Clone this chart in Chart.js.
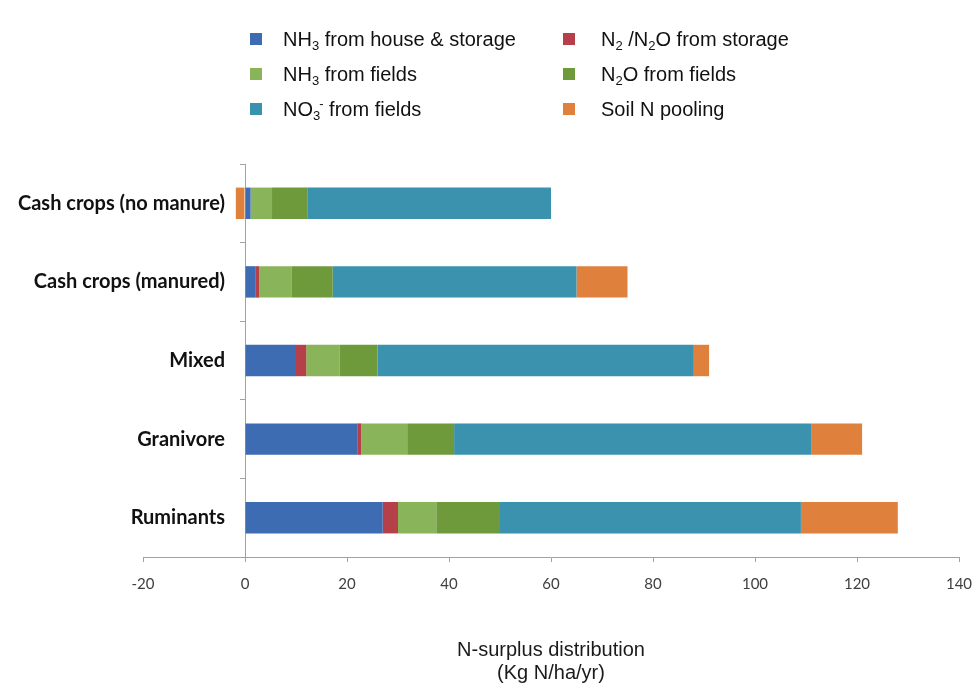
<!DOCTYPE html>
<html><head><meta charset="utf-8">
<script src="https://cdn.jsdelivr.net/npm/chart.js@4.4.1/dist/chart.umd.min.js"></script>
<style>html,body{margin:0;padding:0;background:#fff}#wrap{width:978px;height:684px;position:relative}</style>
</head><body><div id="wrap"><canvas id="c" width="978" height="684"></canvas></div>
<script>
// ---- data ----
const categories = ['Cash crops (no manure)', 'Cash crops (manured)', 'Mixed', 'Granivore', 'Ruminants'];
const seriesLabels = ['NH₃ from house & storage', 'N₂ /N₂O from storage', 'NH₃ from fields', 'N₂O from fields', 'NO₃⁻ from fields', 'Soil N pooling'];
const nh3House  = [1.1, 2.0, 10.0, 22.0, 27.0];
const n2Storage = [0.0, 0.8, 2.0, 0.8, 3.0];
const nh3Fields = [4.2, 6.4, 6.5, 9.0, 7.5];
const n2oFields = [6.9, 8.0, 7.5, 9.2, 12.5];
const no3Fields = [47.8, 47.8, 62.0, 70.0, 59.0];
const soilPool  = [-1.8, 10.0, 3.0, 10.0, 19.0];
const xTicks = [-20, 0, 20, 40, 60, 80, 100, 120, 140];
const axisTitle = ['N-surplus distribution', '(Kg N/ha/yr)'];

const seriesValues = [nh3House, n2Storage, nh3Fields, n2oFields, no3Fields, soilPool];
const seriesColors = ['#3d6cb3', '#b5404a', '#8ab45a', '#6e9a3c', '#3a92ae', '#df803d'];
const axisColor = '#a8a19b';

// legend drawn on canvas with sub/superscripts
const SUB = {'₀':'0','₁':'1','₂':'2','₃':'3','₄':'4'};
const SUP = {'⁻':'-','⁺':'+'};
const legendPlugin = {
  id: 'gridLegend',
  afterDraw(chart) {
    const ctx = chart.ctx;
    const colX = [250, 563];
    const textX = [283, 601];
    const rowY = [39, 74, 109];
    const fs = 20, sfs = 13;
    chart.data.datasets.forEach((ds, i) => {
      const col = i % 2, row = Math.floor(i / 2);
      const cy = rowY[row];
      ctx.save();
      ctx.fillStyle = ds.backgroundColor;
      ctx.fillRect(colX[col], cy - 6, 12, 12);
      ctx.fillStyle = '#111';
      ctx.textBaseline = 'alphabetic';
      let x = textX[col];
      const base = cy + 7;
      let lastSubX = null, lastSubW = 0;
      for (const ch of Array.from(ds.label)) {
        if (SUB[ch]) {
          ctx.font = sfs + 'px "Liberation Sans", Arial, sans-serif';
          ctx.fillText(SUB[ch], x, base + 4);
          lastSubX = x; lastSubW = ctx.measureText(SUB[ch]).width;
          x += lastSubW;
        } else if (SUP[ch]) {
          ctx.font = sfs + 'px "Liberation Sans", Arial, sans-serif';
          const sx = lastSubX !== null ? lastSubX + lastSubW - 1 : x;
          ctx.fillText(SUP[ch], sx, base - 8);
          x = Math.max(x, sx + ctx.measureText(SUP[ch]).width);
          lastSubX = null;
        } else {
          ctx.font = fs + 'px "Liberation Sans", Arial, sans-serif';
          ctx.fillText(ch, x, base);
          x += ctx.measureText(ch).width;
          lastSubX = null;
        }
      }
      ctx.restore();
    });
  }
};

// y labels of an axis placed at x=0: add a gap between label and axis line
const labelGapPlugin = {
  id: 'labelGap',
  beforeDraw(chart) {
    const s = chart.scales.y;
    const items = s.getLabelItems(chart.chartArea);
    items.forEach(it => {
      if (!it._shifted) { it.options.translation[0] -= 20; it._shifted = true; }
    });
  }
};

const datasets = seriesLabels.map((lab, i) => ({
  label: lab,
  data: seriesValues[i],
  backgroundColor: seriesColors[i],
  borderWidth: 0,
  barPercentage: 0.4,
  categoryPercentage: 1.0
}));

new Chart(document.getElementById('c'), {
  type: 'bar',
  data: { labels: categories, datasets },
  plugins: [legendPlugin, labelGapPlugin],
  options: {
    indexAxis: 'y',
    responsive: false,
    animation: false,
    events: [],
    layout: { padding: { top: 164, left: 143, right: 19, bottom: 0 } },
    plugins: { legend: { display: false }, tooltip: { enabled: false } },
    scales: {
      x: {
        type: 'linear', stacked: true, min: xTicks[0], max: xTicks[xTicks.length - 1],
        afterBuildTicks(scale) { scale.ticks = xTicks.map(v => ({ value: v })); },
        afterFit(scale) { scale.paddingLeft = 0; scale.paddingRight = 0; },
        ticks: { color: '#404040', font: { family: 'Lato', size: 15 }, padding: 13 },
        grid: { drawOnChartArea: false, drawTicks: true, tickLength: 5, color: axisColor },
        border: { display: true, color: axisColor, width: 1 },
        title: { display: true, text: axisTitle, color: '#1a1a1a',
                 font: { family: '"Liberation Sans", Arial, sans-serif', size: 20, lineHeight: 1.15 },
                 padding: { top: 33, bottom: -1 } }
      },
      y: {
        type: 'category', stacked: true, position: { x: 0 },
        ticks: { color: '#111', font: { family: 'Lato', weight: 'bold', size: 20 } },
        grid: { drawOnChartArea: false, drawTicks: true, tickLength: 5, color: axisColor, offset: true },
        border: { display: true, color: axisColor, width: 1 }
      }
    }
  }
});
</script>
</body></html>
